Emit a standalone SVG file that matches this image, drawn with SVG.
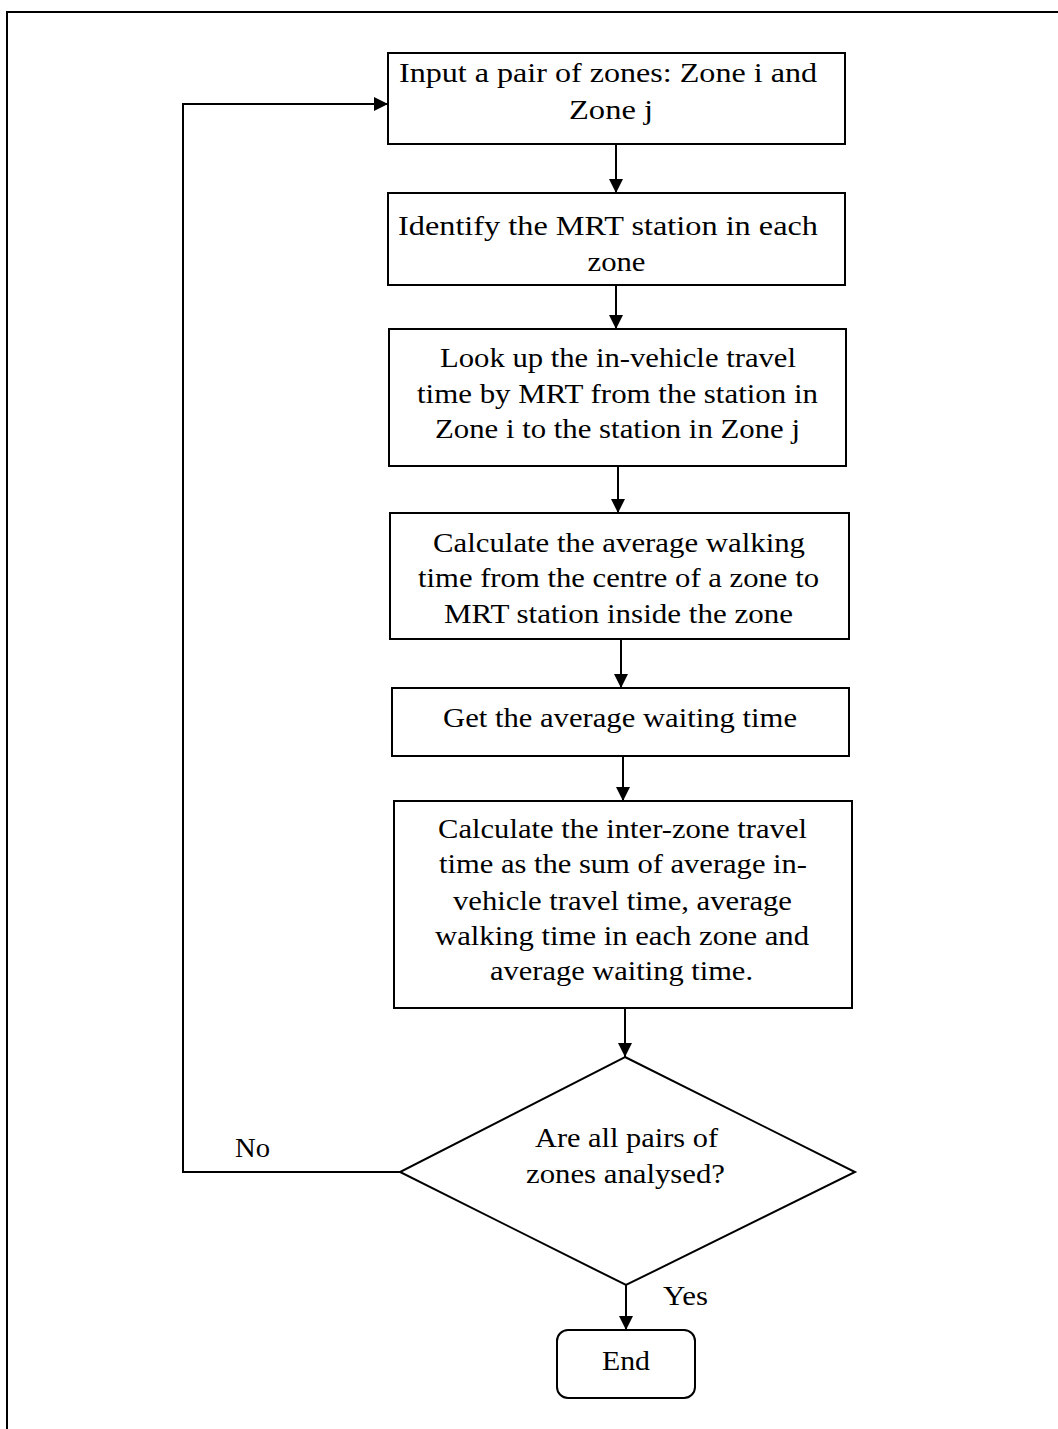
<svg xmlns="http://www.w3.org/2000/svg" width="1058" height="1429" viewBox="0 0 1058 1429">
<style>
  .box { fill: #fff; stroke: #000; stroke-width: 2; }
  .line { fill: none; stroke: #000; stroke-width: 2; }
  text { font-family: "Liberation Serif", "Times New Roman", serif; font-size: 28px; fill: #000; text-anchor: middle; }
  .dt { font-size: 27px; }
</style>
<defs>
  <marker id="arrow" viewBox="0 0 14 14" refX="14" refY="7" markerWidth="14" markerHeight="14" markerUnits="userSpaceOnUse" orient="auto">
    <path d="M0,0 L14,7 L0,14 Z" fill="#000"/>
  </marker>
</defs>
<rect width="1058" height="1429" fill="#fff"/>
<g id="frame">
  <path class="line" d="M7,1429 L7,12 L1058,12"/>
</g>
<g id="connectors">
  <line class="line" x1="616" y1="144" x2="616" y2="193" marker-end="url(#arrow)"/>
  <line class="line" x1="616" y1="285" x2="616" y2="329" marker-end="url(#arrow)"/>
  <line class="line" x1="618" y1="466" x2="618" y2="513" marker-end="url(#arrow)"/>
  <line class="line" x1="621" y1="639" x2="621" y2="688" marker-end="url(#arrow)"/>
  <line class="line" x1="623" y1="756" x2="623" y2="801" marker-end="url(#arrow)"/>
  <line class="line" x1="625" y1="1008" x2="625" y2="1057" marker-end="url(#arrow)"/>
  <line class="line" x1="626" y1="1285" x2="626" y2="1330" marker-end="url(#arrow)"/>
  <path class="line" d="M400,1172 L183,1172 L183,104 L388,104" marker-end="url(#arrow)"/>
  <text x="252.5" y="1157" textLength="35" lengthAdjust="spacingAndGlyphs">No</text>
  <text x="685.5" y="1305" textLength="45" lengthAdjust="spacingAndGlyphs">Yes</text>
</g>
<g id="n1">
  <rect class="box" x="388" y="53" width="457" height="91"/>
  <text x="608" y="82" textLength="418" lengthAdjust="spacingAndGlyphs">Input a pair of zones: Zone i and</text>
  <text x="611" y="119" textLength="84" lengthAdjust="spacingAndGlyphs">Zone j</text>
</g>
<g id="n2">
  <rect class="box" x="388" y="193" width="457" height="92"/>
  <text x="608" y="235" textLength="420" lengthAdjust="spacingAndGlyphs">Identify the MRT station in each</text>
  <text x="616.5" y="271" textLength="58" lengthAdjust="spacingAndGlyphs">zone</text>
</g>
<g id="n3">
  <rect class="box" x="389" y="329" width="457" height="137"/>
  <text x="618" y="367" textLength="356" lengthAdjust="spacingAndGlyphs">Look up the in-vehicle travel</text>
  <text x="617.5" y="403" textLength="401" lengthAdjust="spacingAndGlyphs">time by MRT from the station in</text>
  <text x="617.5" y="438" textLength="365" lengthAdjust="spacingAndGlyphs">Zone i to the station in Zone j</text>
</g>
<g id="n4">
  <rect class="box" x="390" y="513" width="459" height="126"/>
  <text x="619" y="552" textLength="372" lengthAdjust="spacingAndGlyphs">Calculate the average walking</text>
  <text x="618.5" y="587" textLength="401" lengthAdjust="spacingAndGlyphs">time from the centre of a zone to</text>
  <text x="618.5" y="623" textLength="349" lengthAdjust="spacingAndGlyphs">MRT station inside the zone</text>
</g>
<g id="n5">
  <rect class="box" x="392" y="688" width="457" height="68"/>
  <text x="620" y="727" textLength="354" lengthAdjust="spacingAndGlyphs">Get the average waiting time</text>
</g>
<g id="n6">
  <rect class="box" x="394" y="801" width="458" height="207"/>
  <text x="622.5" y="838" textLength="369" lengthAdjust="spacingAndGlyphs">Calculate the inter-zone travel</text>
  <text x="623" y="873" textLength="368" lengthAdjust="spacingAndGlyphs">time as the sum of average in-</text>
  <text x="622.5" y="910" textLength="339" lengthAdjust="spacingAndGlyphs">vehicle travel time, average</text>
  <text x="622" y="945" textLength="374" lengthAdjust="spacingAndGlyphs">walking time in each zone and</text>
  <text x="621.5" y="980" textLength="263" lengthAdjust="spacingAndGlyphs">average waiting time.</text>
</g>
<g id="n7">
  <polygon class="box" points="625,1057 855,1172 626,1285 400,1172"/>
  <text class="dt" x="626.5" y="1147" textLength="183" lengthAdjust="spacingAndGlyphs">Are all pairs of</text>
  <text class="dt" x="625.5" y="1183" textLength="199" lengthAdjust="spacingAndGlyphs">zones analysed?</text>
</g>
<g id="n8">
  <rect class="box" x="557" y="1330" width="138" height="68" rx="11" ry="11"/>
  <text x="626" y="1370" textLength="48" lengthAdjust="spacingAndGlyphs">End</text>
</g>
</svg>
